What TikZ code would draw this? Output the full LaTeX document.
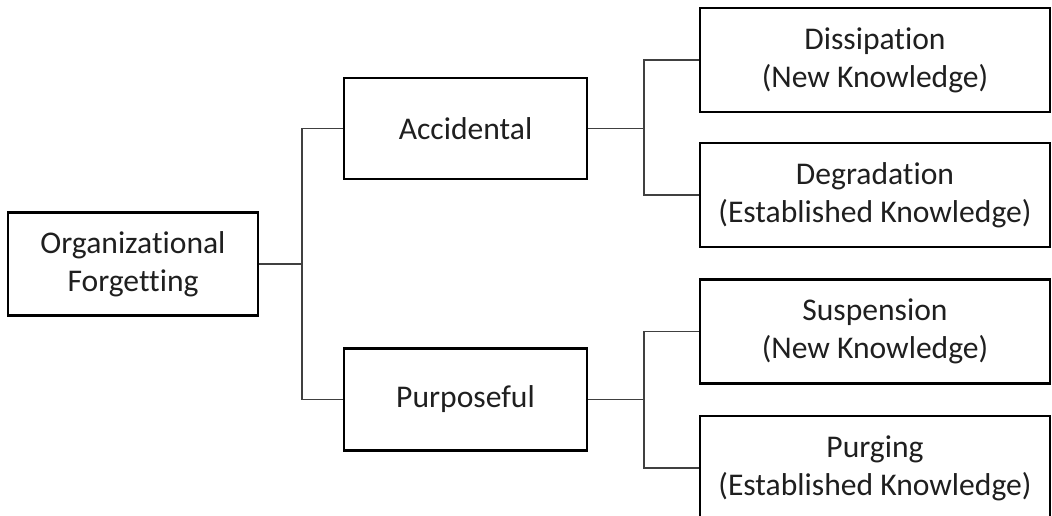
\documentclass[tikz,border=0pt]{standalone}
\usepackage{fontspec}
\setmainfont{Carlito}[Ligatures={NoCommon}]
\begin{document}
\begin{tikzpicture}[x=1pt,y=-1pt,
  box/.style={draw=black,line width=2.2pt,inner sep=0pt,align=center,text=black!88,font=\fontsize{31.6}{38}\selectfont},
  conn/.style={draw=black!75,line width=1.2pt}]
\useasboundingbox (0,0) rectangle (1052,516);
\begin{scope}
\clip (0,0) rectangle (1052,516);
\node[box,minimum width=250,minimum height=103] (org) at (133,264) {Organizational\\Forgetting};
\node[box,minimum width=243,minimum height=101] (acc) at (465.5,128.5) {Accidental};
\node[box,minimum width=243,minimum height=102] (pur) at (465.5,399.5) {Purposeful};
\node[box,minimum width=350,minimum height=104] (dis) at (875,60) {Dissipation\\(New Knowledge)};
\node[box,minimum width=350,minimum height=104] (deg) at (875,195) {Degradation\\(Established Knowledge)};
\node[box,minimum width=350,minimum height=104] (sus) at (875,331.5) {Suspension\\(New Knowledge)};
\node[box,minimum width=350,minimum height=104] (prg) at (875,468) {Purging\\(Established Knowledge)};
\coordinate (j1) at (302,264);
\coordinate (j2) at (644,128.5);
\coordinate (j3) at (644,399.5);
\draw[conn] (org.east) -- (j1);
\draw[conn] (acc.west) -| (j1) |- (pur.west);
\draw[conn] (acc.east) -- (j2);
\draw[conn] (dis.west) -| (j2) |- (deg.west);
\draw[conn] (pur.east) -- (j3);
\draw[conn] (sus.west) -| (j3) |- (prg.west);
\end{scope}
\end{tikzpicture}
\end{document}
